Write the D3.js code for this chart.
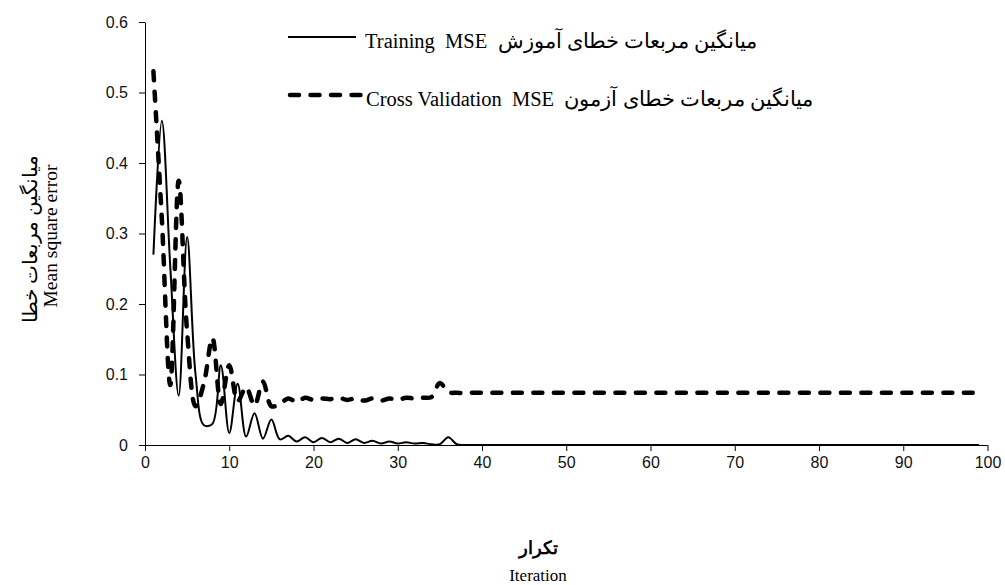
<!DOCTYPE html>
<html>
<head>
<meta charset="utf-8">
<script src="https://cdn.jsdelivr.net/npm/d3@7/dist/d3.min.js"></script>
<style>
	body { margin: 0; background: #fff; }
	.axis text { font-family: "Liberation Sans", "DejaVu Sans", sans-serif; font-size: 16px; fill: #111; }
	.axis path, .axis line { stroke: #000; stroke-width: 1; }
	.legend-text { font-family: "Liberation Serif", "DejaVu Serif", serif; font-size: 20.5px; white-space: pre; }
	.axis-label { font-family: "Liberation Serif", "DejaVu Serif", serif; }
</style>
</head>
<body>
<div id="chart-area"></div>
<script>

// SVG Size
var width = 1005,
	height = 585;

// Iterations (x axis categories)
var iteration = d3.range(1, 100);

// Training MSE
var trainingMSE = [
	0.27, 0.46, 0.253, 0.07, 0.295, 0.10, 0.028, 0.03, 0.113, 0.017,
	0.087, 0.012, 0.045, 0.009, 0.036, 0.008, 0.013, 0.005, 0.011, 0.004,
	0.010, 0.004, 0.009, 0.003, 0.008, 0.003, 0.006, 0.002, 0.005, 0.002,
	0.004, 0.002, 0.003, 0.001, 0.001, 0.011, 0.001, 0, 0, 0,
	0, 0, 0, 0, 0, 0, 0, 0, 0, 0,
	0, 0, 0, 0, 0, 0, 0, 0, 0, 0,
	0, 0, 0, 0, 0, 0, 0, 0, 0, 0,
	0, 0, 0, 0, 0, 0, 0, 0, 0, 0,
	0, 0, 0, 0, 0, 0, 0, 0, 0, 0,
	0, 0, 0, 0, 0, 0, 0, 0, 0
];

// Cross validation MSE
var validationMSE = [
	0.53, 0.32, 0.085, 0.375, 0.16, 0.055, 0.088, 0.152, 0.058, 0.113,
	0.062, 0.082, 0.056, 0.09, 0.055, 0.058, 0.066, 0.061, 0.067, 0.064,
	0.066, 0.065, 0.067, 0.064, 0.066, 0.063, 0.066, 0.063, 0.066, 0.064,
	0.067, 0.066, 0.067, 0.068, 0.088, 0.075, 0.074, 0.074, 0.074, 0.074,
	0.074, 0.074, 0.074, 0.074, 0.074, 0.074, 0.074, 0.074, 0.074, 0.074,
	0.074, 0.074, 0.074, 0.074, 0.074, 0.074, 0.074, 0.074, 0.074, 0.074,
	0.074, 0.074, 0.074, 0.074, 0.074, 0.074, 0.074, 0.074, 0.074, 0.074,
	0.074, 0.074, 0.074, 0.074, 0.074, 0.074, 0.074, 0.074, 0.074, 0.074,
	0.074, 0.074, 0.074, 0.074, 0.074, 0.074, 0.074, 0.074, 0.074, 0.074,
	0.074, 0.074, 0.074, 0.074, 0.074, 0.074, 0.074, 0.074, 0.074
];

var xTicks = [0, 10, 20, 30, 40, 50, 60, 70, 80, 90, 100];
var yTicks = [0, 0.1, 0.2, 0.3, 0.4, 0.5, 0.6];

var legendLabels = [
	"Training  MSE  میانگین مربعات خطای آموزش",
	"Cross Validation  MSE  میانگین مربعات خطای آزمون"
];

var yLabel = ["میانگین مربعات خطا", "Mean square error"];
var xLabel = ["تکرار", "Iteration"];

// Plot area
var margin = {top: 22, right: 17.5, bottom: 140, left: 145};

var svg = d3.select("#chart-area").append("svg")
	.attr("width", width)
	.attr("height", height);

// Scales
var xScale = d3.scaleLinear()
	.domain([0, 100])
	.range([margin.left, width - margin.right]);

var yScale = d3.scaleLinear()
	.domain([0, 0.6])
	.range([height - margin.bottom, margin.top]);

// Axes
var xAxis = d3.axisBottom(xScale)
	.tickValues(xTicks)
	.tickSize(6)
	.tickSizeOuter(0)
	.tickPadding(6)
	.tickFormat(d3.format("d"));

var yAxis = d3.axisLeft(yScale)
	.tickValues(yTicks)
	.tickSize(6)
	.tickSizeOuter(0)
	.tickPadding(11)
	.tickFormat(d => d === 0 ? "0" : d3.format(".1f")(d));

svg.append("g")
	.attr("class", "y-axis axis")
	.attr("transform", "translate(" + margin.left + ",0)")
	.call(yAxis);

var xAxisGroup = svg.append("g")
	.attr("class", "x-axis axis")
	.attr("transform", "translate(0," + (height - margin.bottom) + ")")
	.call(xAxis);

// x axis line reaches left to the y tick mark
xAxisGroup.select(".domain")
	.attr("d", "M" + (margin.left - 6) + ",0.5H" + (width - margin.right));

// Lines
var line = function(values) {
	return d3.line()
		.x((d, i) => xScale(iteration[i]))
		.y(d => yScale(d))
		.curve(d3.curveCatmullRom.alpha(0.5))(values);
};

svg.append("path")
	.attr("d", line(validationMSE))
	.attr("fill", "none")
	.attr("stroke", "#000")
	.attr("stroke-width", 4.5)
	.attr("stroke-linecap", "round")
	.attr("stroke-dasharray", "9,11.5");

svg.append("path")
	.attr("d", line(trainingMSE))
	.attr("fill", "none")
	.attr("stroke", "#000")
	.attr("stroke-width", 2);

// Legend
var legend = svg.append("g").attr("class", "legend");

legend.append("line")
	.attr("x1", 288).attr("x2", 356)
	.attr("y1", 37).attr("y2", 37)
	.attr("stroke", "#000")
	.attr("stroke-width", 2);

legend.append("line")
	.attr("x1", 290).attr("x2", 362)
	.attr("y1", 95).attr("y2", 95)
	.attr("stroke", "#000")
	.attr("stroke-width", 4.5)
	.attr("stroke-linecap", "round")
	.attr("stroke-dasharray", "9,11.5");

legend.selectAll("text.legend-text")
	.data(legendLabels)
	.enter()
	.append("text")
	.attr("class", "legend-text")
	.attr("x", (d, i) => i === 0 ? 365 : 366)
	.attr("y", (d, i) => i === 0 ? 48 : 106)
	.attr("direction", "ltr")
	.text(d => d);

// Axis labels
svg.append("text")
	.attr("class", "axis-label")
	.attr("transform", "translate(37,239) rotate(-90)")
	.attr("text-anchor", "middle")
	.attr("font-size", 20)
	.text(yLabel[0]);

svg.append("text")
	.attr("class", "axis-label")
	.attr("transform", "translate(57,236) rotate(-90)")
	.attr("text-anchor", "middle")
	.attr("font-size", 19.5)
	.text(yLabel[1]);

svg.append("text")
	.attr("class", "axis-label")
	.attr("x", 538)
	.attr("y", 554)
	.attr("text-anchor", "middle")
	.attr("font-size", 18)
	.attr("font-weight", "bold")
	.text(xLabel[0]);

svg.append("text")
	.attr("class", "axis-label")
	.attr("x", 538)
	.attr("y", 581)
	.attr("text-anchor", "middle")
	.attr("font-size", 17)
	.text(xLabel[1]);

</script>
</body>
</html>
